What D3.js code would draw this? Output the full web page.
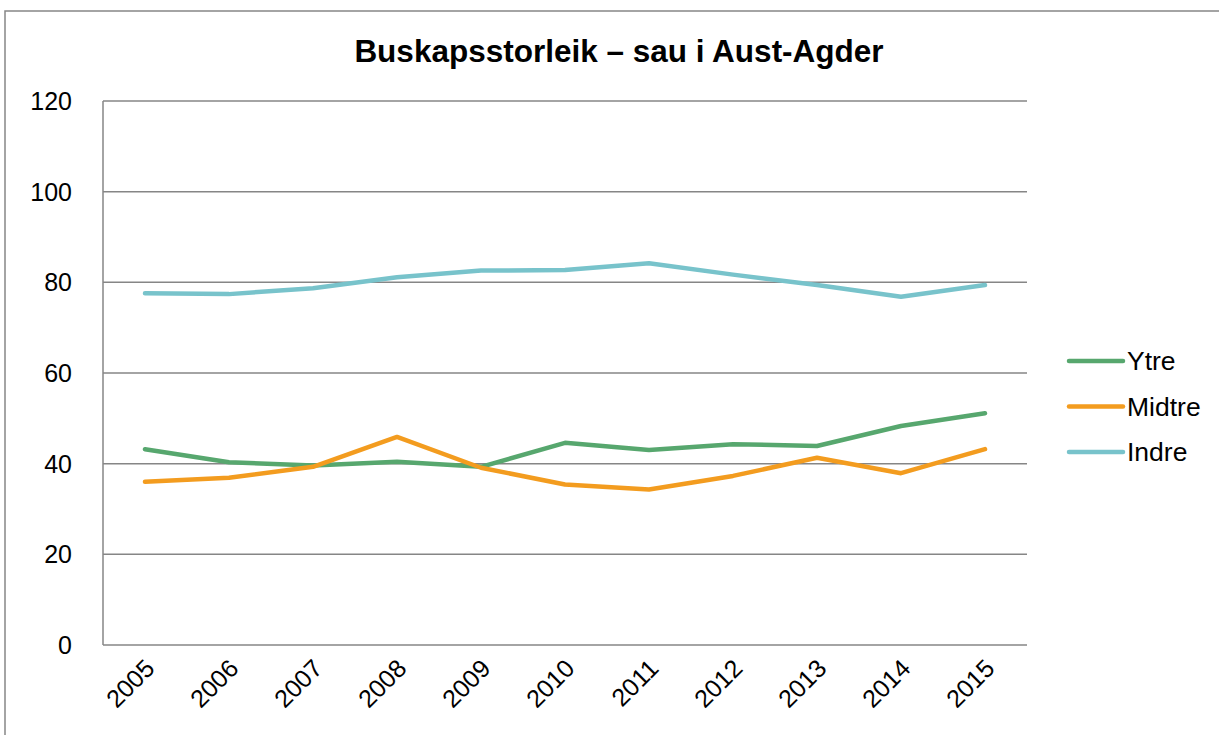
<!DOCTYPE html>
<html>
<head>
<meta charset='utf-8'>
<style>
body { margin: 0; background: #fff; }
text { font-family: 'Liberation Sans', Arial, sans-serif; fill: #000; }
.grid line { stroke: #868686; stroke-width: 1.5px; }
.line { fill: none; stroke-width: 4.5px; stroke-linejoin: round; stroke-linecap: round; }
</style>
<script src='https://d3js.org/d3.v7.min.js'></script>
</head>
<body>
<svg id='chart1' width='1219' height='735'></svg>
<script>
var years = ['2005','2006','2007','2008','2009','2010','2011','2012','2013','2014','2015'];
var ytre   = [43.2, 40.3, 39.6, 40.4, 39.3, 44.6, 43.0, 44.3, 43.9, 48.3, 51.1];
var midtre = [36.0, 36.9, 39.3, 45.9, 39.1, 35.4, 34.3, 37.3, 41.3, 37.9, 43.2];
var indre  = [77.6, 77.4, 78.7, 81.1, 82.6, 82.7, 84.2, 81.7, 79.4, 76.8, 79.4];
var seriesNames = ['Ytre', 'Midtre', 'Indre'];
var seriesColors = ['#57a76e', '#f39c1f', '#78c3cb'];
var yTicks = [0, 20, 40, 60, 80, 100, 120];
var title = 'Buskapsstorleik \u2013 sau i Aust-Agder';

var series = [ytre, midtre, indre];

var chart1 = d3.select('svg');
var margin = {top: 101, left: 103, right: 192, bottom: 90};
var width = +chart1.attr('width') - margin.left - margin.right;
var height = +chart1.attr('height') - margin.top - margin.bottom;

// outer frame
chart1.append('rect')
    .attr('x', 5).attr('y', 11)
    .attr('width', 1230).attr('height', 740)
    .attr('fill', 'none').attr('stroke', '#868686').attr('stroke-width', 1.5);

chart1.append('text')
    .attr('x', 619).attr('y', 62)
    .attr('text-anchor', 'middle')
    .style('font-size', '31.5px').style('font-weight', 'bold')
    .text(title);

var g = chart1.append('g')
    .attr('transform', 'translate(' + margin.left + ',' + margin.top + ')');

var x = d3.scaleBand().domain(years).range([0, width]);
var y = d3.scaleLinear().domain([0, 120]).range([height, 0]);

// gridlines
g.append('g').attr('class', 'grid')
    .selectAll('line').data(yTicks).enter().append('line')
    .attr('x1', 0).attr('x2', width)
    .attr('y1', function(d) { return y(d); })
    .attr('y2', function(d) { return y(d); });

g.append('line')
    .attr('x1', 0).attr('x2', 0).attr('y1', 0).attr('y2', height)
    .attr('stroke', '#868686').attr('stroke-width', 1.5);

// y labels
g.selectAll('.ylab').data(yTicks).enter().append('text')
    .attr('class', 'ylab')
    .attr('x', -31)
    .attr('y', function(d) { return y(d) + 9; })
    .attr('text-anchor', 'end')
    .style('font-size', '25px')
    .text(function(d) { return d; });

// x labels
g.selectAll('.xlab').data(years).enter().append('text')
    .attr('class', 'xlab')
    .attr('text-anchor', 'end')
    .style('font-size', '25px')
    .attr('transform', function(d) {
        return 'translate(' + (x(d) + x.bandwidth() / 2 + 11) + ',' + (height + 25) + ') rotate(-45)';
    })
    .text(function(d) { return d; });

var line1 = d3.line()
    .x(function(d, i) { return x(years[i]) + x.bandwidth() / 2; })
    .y(function(d) { return y(d); });

series.forEach(function(s, i) {
    g.append('path')
        .datum(s)
        .attr('class', 'line')
        .attr('stroke', seriesColors[i])
        .attr('d', line1);
});

// legend
var legend = chart1.append('g').attr('transform', 'translate(1069,361)');
seriesNames.forEach(function(name, i) {
    var row = legend.append('g').attr('transform', 'translate(0,' + (i * 45.5) + ')');
    row.append('line')
        .attr('x1', 0).attr('x2', 54).attr('y1', 0).attr('y2', 0)
        .attr('stroke', seriesColors[i]).attr('stroke-width', 4.5)
        .attr('stroke-linecap', 'round');
    row.append('text')
        .attr('x', 58).attr('y', 9)
        .style('font-size', '26.5px')
        .text(name);
});
</script>
</body>
</html>
